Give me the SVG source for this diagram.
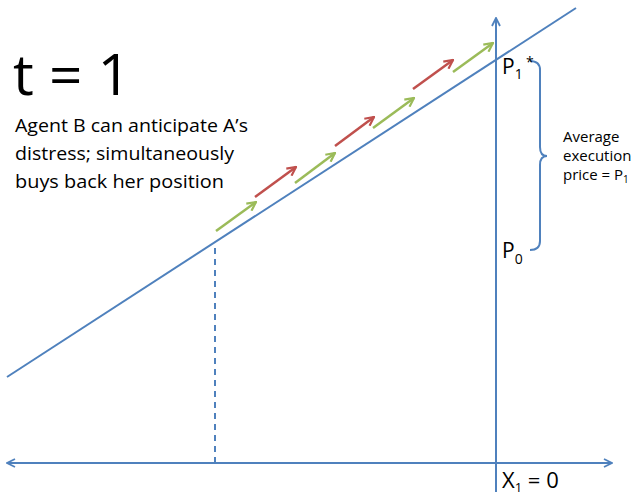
<svg xmlns="http://www.w3.org/2000/svg" width="631" height="499" viewBox="0 0 631 499">
<defs>
<style>
.ax{stroke:#4f81bd;stroke-width:2;fill:none}
.g{stroke:#9bbb59;stroke-width:2.5;fill:none;marker-end:url(#mg)}
.r{stroke:#c0504d;stroke-width:2.5;fill:none;marker-end:url(#mr)}
text{font-family:"Open Sans","Noto Sans",sans-serif;fill:#000}
</style>
<marker id="mb" viewBox="0 0 10 10" refX="9" refY="5" markerWidth="10" markerHeight="10" markerUnits="userSpaceOnUse" orient="auto-start-reverse"><polyline points="1,1 9,5 1,9" fill="none" stroke="#4f81bd" stroke-width="1.8"/></marker>
<marker id="mg" viewBox="0 0 10 10" refX="9" refY="5" markerWidth="11" markerHeight="11" markerUnits="userSpaceOnUse" orient="auto"><polyline points="1,1 9,5 1,9" fill="none" stroke="#9bbb59" stroke-width="2"/></marker>
<marker id="mr" viewBox="0 0 10 10" refX="9" refY="5" markerWidth="11" markerHeight="11" markerUnits="userSpaceOnUse" orient="auto"><polyline points="1,1 9,5 1,9" fill="none" stroke="#c0504d" stroke-width="2"/></marker>
</defs>
<rect width="631" height="499" fill="#fff"/>
<g id="connectors">
<line class="ax" x1="7" y1="463" x2="612" y2="463" marker-start="url(#mb)" marker-end="url(#mb)"/>
<line class="ax" x1="496" y1="492" x2="496" y2="18" marker-end="url(#mb)"/>
<line class="ax" x1="7" y1="377" x2="576" y2="8"/>
<line class="ax" x1="215" y1="248" x2="215" y2="463" stroke-dasharray="6,5"/>
<path class="ax" d="M530,61 Q540,61 540,70 L540,147 Q540,156 547,156 Q540,156 540,165 L540,241 Q540,250 530,250"/>
</g>
<g id="flow-arrows">
<line class="g" x1="216" y1="231" x2="256" y2="202"/>
<line class="r" x1="255" y1="197" x2="296" y2="167"/>
<line class="g" x1="295" y1="183" x2="335" y2="153"/>
<line class="r" x1="335" y1="146" x2="374" y2="117"/>
<line class="g" x1="373" y1="128" x2="414" y2="98"/>
<line class="r" x1="413" y1="89" x2="453" y2="60"/>
<line class="g" x1="453" y1="72" x2="493" y2="43"/>
</g>
<g id="title"><text x="13" y="95" font-size="56" textLength="118" lengthAdjust="spacingAndGlyphs">t = 1</text></g>
<g id="description" font-size="18.5">
<text x="15" y="132" textLength="233" lengthAdjust="spacingAndGlyphs">Agent B can anticipate A’s</text>
<text x="15" y="160" textLength="219" lengthAdjust="spacingAndGlyphs">distress; simultaneously</text>
<text x="15" y="188" textLength="209" lengthAdjust="spacingAndGlyphs">buys back her position</text>
</g>
<g id="label-p1"><text x="502" y="74" font-size="21">P<tspan font-size="14" dy="5">1</tspan></text><text x="526" y="67" font-size="14">*</text></g>
<g id="label-p0"><text x="502" y="258" font-size="21">P<tspan font-size="14" dy="6">0</tspan></text></g>
<g id="label-avg" font-size="15">
<text x="563" y="142">Average</text>
<text x="563" y="161">execution</text>
<text x="563" y="180">price = P<tspan font-size="10" dy="3">1</tspan></text>
</g>
<g id="label-x1"><text x="502" y="488" font-size="22">X<tspan font-size="13" dy="4">1</tspan><tspan dy="-4"> = 0</tspan></text></g>
</svg>
